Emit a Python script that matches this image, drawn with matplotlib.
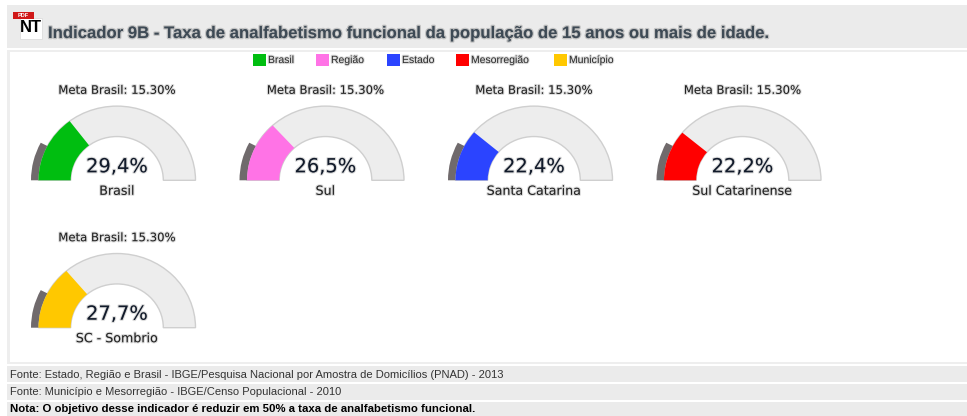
import matplotlib
matplotlib.use("Agg")
import matplotlib.pyplot as plt
from matplotlib.patches import Wedge, Rectangle
import matplotlib.patheffects as pe

W, H = 967, 416
names = ["Brasil", "Sul", "Santa Catarina", "Sul Catarinense", "SC - Sombrio"]
values = [29.4, 26.5, 22.4, 22.2, 27.7]
value_labels = ["29,4%", "26,5%", "22,4%", "22,2%", "27,7%"]
colors = ["#00BE10", "#FF73E6", "#2B44FF", "#FF0000", "#FFC800"]
meta = 15.30
meta_label = "Meta Brasil: 15.30%"
legend_names = ["Brasil", "Região", "Estado", "Mesorregião", "Município"]
legend_x = [253, 316, 387, 456, 554]
centers = [(117, 180.3), (325.5, 180.3), (534, 180.3), (742.5, 180.3), (117, 327.7)]
title = "Indicador 9B - Taxa de analfabetismo funcional da população de 15 anos ou mais de idade."
foot = ["Fonte: Estado, Região e Brasil - IBGE/Pesquisa Nacional por Amostra de Domicílios (PNAD) - 2013",
        "Fonte: Município e Mesorregião - IBGE/Censo Populacional - 2010",
        "Nota: O objetivo desse indicador é reduzir em 50% a taxa de analfabetismo funcional."]

fig = plt.figure(figsize=(W/100, H/100), dpi=100, facecolor="white")
bg = fig.add_axes([0, 0, 1, 1])
bg.set_xlim(0, W); bg.set_ylim(H, 0); bg.axis("off")

def shadow(c="#999999", w=1.6):
    return [pe.withStroke(linewidth=w, foreground=c, alpha=0.35)]

# page blocks
bg.add_patch(Rectangle((7, 5), W-7, 43, fc="#EBEBEB", ec="none"))
bg.add_patch(Rectangle((7, 50), W-7, 314, fc="#EEEEEE", ec="none"))
bg.add_patch(Rectangle((10, 52), W-10, 310, fc="white", ec="none"))
for y, h in [(366, 16), (384, 16), (402, 14)]:
    bg.add_patch(Rectangle((7, y), W-7, h, fc="#EBEBEB", ec="none"))

# icon
bg.add_patch(Rectangle((20, 18), 22, 21, fc="white", ec="#DDDDDD", lw=0.6))
bg.add_patch(Rectangle((13, 12), 21, 7, fc="#D01818", ec="none"))
bg.text(23.5, 15.5, "PDF", fontsize=4, color="white", weight="bold", ha="center", va="center", family="Liberation Sans")
bg.text(31, 28, "NT", fontsize=12, color="black", weight="bold", ha="center", va="center", family="Liberation Sans")

bg.text(48, 33.5, title, fontsize=12.03, color="#3E4A55", weight="bold", va="center", family="Liberation Sans",
        path_effects=shadow("#777777", 1.8))

for n, c, x in zip(legend_names, colors, legend_x):
    bg.add_patch(Rectangle((x, 54), 12.5, 11.5, fc=c, ec="none"))
    bg.text(x+15, 60, n, fontsize=7.5, color="#333333", va="center", family="Liberation Sans", path_effects=shadow())

sizes = (8.0, 8.0, 8.2)
for i, (t, y, fs) in enumerate(zip(foot, (375, 392, 408.5), sizes)):
    bg.text(9.5, y, t, fontsize=fs, color="black" if i == 2 else "#333333", va="center",
            weight="bold" if i == 2 else "normal", family="Liberation Sans")

R, r, RM = 78.5, 46.3, 86.0
ky = 0.945

def ang(v):
    return 180.0 * (1 - v / 100.0)

for name, v, lab, c, (cx, cy) in zip(names, values, value_labels, colors, centers):
    hh = RM * ky
    ax = fig.add_axes([(cx-RM-2)/W, 1-(cy+1)/H, (2*RM+4)/W, (hh+3)/H])
    ax.set_xlim(-RM-2, RM+2); ax.set_ylim(-1/ky, RM+2/ky); ax.axis("off")
    ax.add_patch(Wedge((0, 0), R, 0, 180, width=R-r, fc="#EDEDED", ec="#CFCFCF", lw=1))
    ax.add_patch(Wedge((0, 0), RM, ang(meta), 180, width=RM-R, fc="#706A6C", ec="none"))
    ax.add_patch(Wedge((0, 0), R, ang(v), 180, width=R-r, fc=c, ec="none"))
    bg.text(cx, cy-90, meta_label, fontsize=8.4, color="#222222", ha="center", va="center", path_effects=shadow())
    bg.text(cx, cy-13.5, lab, fontsize=14, color="#111A2A", ha="center", va="center", path_effects=shadow())
    bg.text(cx, cy+11, name, fontsize=9.1, color="#222222", ha="center", va="center", path_effects=shadow())

fig.savefig("out.png", dpi=100)
